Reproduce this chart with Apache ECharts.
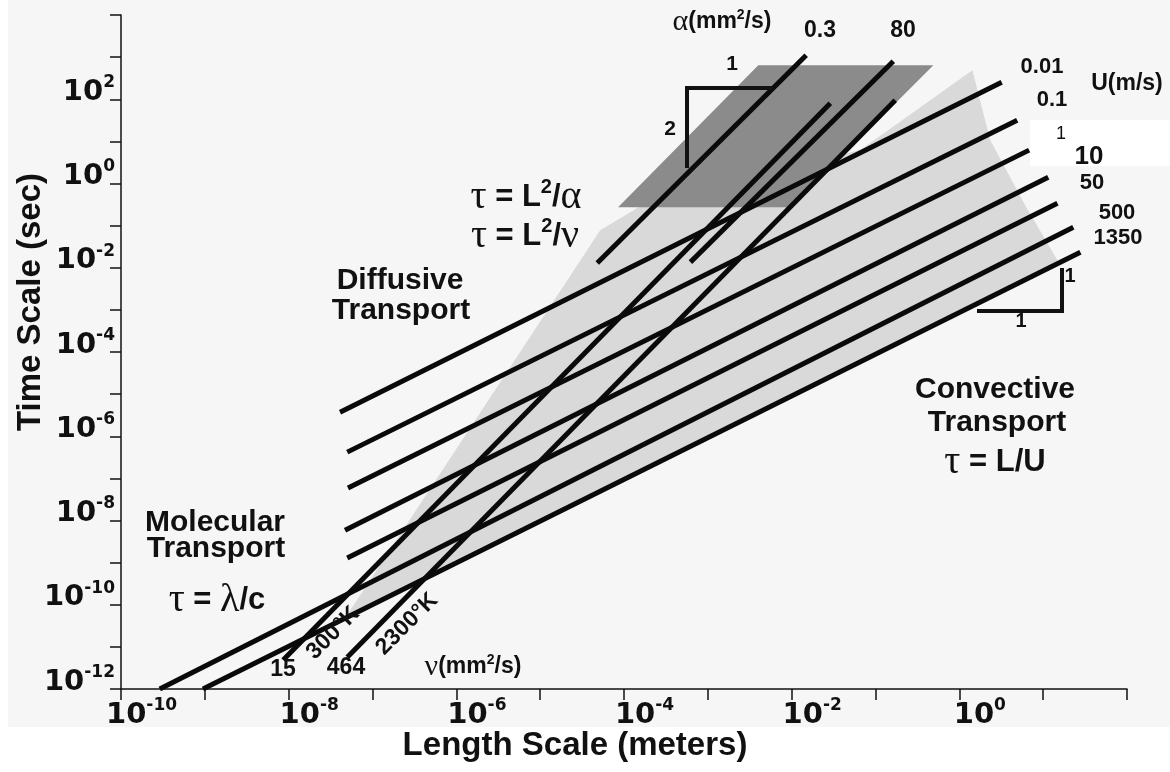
<!DOCTYPE html>
<html><head><meta charset="utf-8">
<script src="https://cdn.jsdelivr.net/npm/echarts@6/dist/echarts.min.js"></script>
<style>html,body{margin:0;padding:0;background:#fff}#c{width:1170px;height:772px}</style>
</head><body><div id="c"></div>
<script>
// ---- Convective lines  tau = L/U  (U in m/s): end points [L (m), tau (s)]
const uLabels = ['0.01', '0.1', '1', '10', '50', '500', '1350'];
const uStartL = [4.1e-8, 5.0e-8, 5.1e-8, 4.7e-8, 5.0e-8, 2.9e-10, 9.5e-10];
const uStartT = [3.7e-6, 4.2e-7, 5.9e-8, 5.9e-9, 1.29e-9, 1e-12, 1e-12];
const uEndL   = [3.2, 4.9, 6.8, 11.5, 14.8, 22.9, 27.8];
const uEndT   = [254, 31.8, 6.2, 1.41, 0.34, 0.092, 0.0234];

// ---- Diffusive lines  tau = L^2/alpha , tau = L^2/nu  (mm^2/s)
const dLabels = ['alpha 0.3', 'alpha 80', 'nu 15', 'nu 464'];
const dStartL = [4.8e-5, 6.2e-4, 8.6e-9, 5.0e-8];
const dStartT = [0.0129, 0.0136, 4.9e-12, 5.7e-12];
const dEndL   = [0.0149, 0.163, 0.0289, 0.172];
const dEndT   = [1110, 800, 80.5, 94.8];

// ---- Shaded regions (vertices L, tau)
const darkL  = [8.5e-5, 4.0e-3, 0.49, 9.9e-3];
const darkT  = [0.274, 643, 643, 0.274];
const lightL = [4.7e-8, 5.2e-5, 2.06e-4, 0.066, 1.43, 2.34, 6.1, 15.2];
const lightT = [4.8e-11, 0.078, 0.40, 6.2, 489, 10.7, 0.305, 0.0136];

// ---- Axis decades
const xMinExp = -10, xMaxExp = 2, xLastLabel = 0;
const yMinExp = -12, yMaxExp = 4, yLastLabel = 2;

const lg = Math.log10;
const SANS = '"Liberation Sans", Arial, sans-serif';
const SERIF = '"Liberation Serif", "DejaVu Serif", serif';
const INK = '#111111';

const chart = echarts.init(document.getElementById('c'), null, {renderer: 'canvas'});

function lineSeries(name, l0, t0, l1, t1) {
  return {
    type: 'line', name, silent: true, z: 5, symbol: 'none',
    data: [[lg(l0), lg(t0)], [lg(l1), lg(t1)]],
    lineStyle: {color: '#0a0a0a', width: 5, cap: 'butt'}
  };
}
function polySeries(name, Ls, Ts, fill, z) {
  const pts = Ls.map((l, i) => [lg(l), lg(Ts[i])]);
  return {
    type: 'custom', name, silent: true, z,
    data: pts,
    renderItem: (params, api) => {
      if (params.dataIndex !== 0) return null;
      return {type: 'polygon', shape: {points: pts.map(p => api.coord(p))}, style: {fill}};
    }
  };
}

const series = [];
series.push(polySeries('light', lightL, lightT, '#d9d9d9', 1));
series.push(polySeries('dark', darkL, darkT, '#8b8b8b', 2));
uLabels.forEach((u, i) => series.push(lineSeries('U=' + u, uStartL[i], uStartT[i], uEndL[i], uEndT[i])));
dLabels.forEach((d, i) => series.push(lineSeries(d, dStartL[i], dStartT[i], dEndL[i], dEndT[i])));

const tickRich = {
  sp: {width: 41},
  b: {fontFamily: '"DejaVu Sans", sans-serif', fontWeight: 'bold', fontSize: 29, lineHeight: 36, color: INK},
  s: {fontFamily: '"DejaVu Sans", sans-serif', fontWeight: 'bold', fontSize: 17, lineHeight: 12, verticalAlign: 'top', color: INK}
};

function T(x, y, text, font, extra) {
  return {type: 'text', x, y, z: 100, silent: true,
    style: Object.assign({text, font, fill: INK, align: 'center', verticalAlign: 'middle'}, extra || {})};
}
const BOLD = s => 'bold ' + s + 'px ' + SANS;
const eqRich = {
  t: {fontFamily: SERIF, fontSize: 40, lineHeight: 40, fill: INK},
  e: {fontFamily: SANS, fontWeight: 'bold', fontSize: 31, lineHeight: 40, fill: INK},
  s: {fontFamily: SANS, fontWeight: 'bold', fontSize: 20, lineHeight: 18, verticalAlign: 'top', fill: INK}
};
const unitRich = {
  g: {fontFamily: SERIF, fontSize: 30, lineHeight: 28, fill: INK},
  b: {fontFamily: SANS, fontWeight: 'bold', fontSize: 23, lineHeight: 28, fill: INK},
  s: {fontFamily: SANS, fontWeight: 'bold', fontSize: 14, lineHeight: 12, verticalAlign: 'top', fill: INK}
};

const yTitle = T(31, 302, 'Time Scale (sec)', BOLD(33));
yTitle.rotation = Math.PI / 2;
const k300 = T(333, 633, '300°K', BOLD(23));
k300.rotation = Math.PI / 4;
const k2300 = T(407, 624, '2300°K', BOLD(23));
k2300.rotation = Math.PI / 4;

const graphic = [
  {type: 'rect', z: -10, silent: true, shape: {x: 8, y: 0, width: 1162, height: 727}, style: {fill: '#f6f6f6'}},
  {type: 'rect', z: -5, silent: true, shape: {x: 1030, y: 120, width: 140, height: 46}, style: {fill: '#ffffff'}},
  {type: 'polyline', z: 10, silent: true, shape: {points: [[772, 88], [687, 88], [687, 168]]}, style: {stroke: INK, lineWidth: 4, fill: null}},
  {type: 'polyline', z: 10, silent: true, shape: {points: [[1062, 268], [1062, 311], [977, 311]]}, style: {stroke: INK, lineWidth: 4, fill: null}},
  T(732, 64, '1', BOLD(21)),
  T(670, 129, '2', BOLD(21)),
  T(1070, 276, '1', BOLD(20)),
  T(1021, 321, '1', BOLD(20)),
  // axis titles
  yTitle,
  T(575, 746, 'Length Scale (meters)', BOLD(33)),
  // region labels
  T(400, 281, 'Diffusive', BOLD(30)),
  T(401, 311, 'Transport', BOLD(30)),
  T(215, 523, 'Molecular', BOLD(30)),
  T(216, 549, 'Transport', BOLD(30)),
  T(995, 390, 'Convective', BOLD(30)),
  T(997, 423, 'Transport', BOLD(30)),
  T(217, 600, '{t|τ}{e| = }{t|λ}{e|/c}', null, {rich: eqRich}),
  T(995, 462, '{t|τ}{e| = L/U}', null, {rich: eqRich}),
  T(526, 197, '{t|τ}{e| = L}{s|2}{e|/}{t|α}', null, {rich: eqRich}),
  T(525, 236, '{t|τ}{e| = L}{s|2}{e|/}{t|ν}', null, {rich: eqRich}),
  // alpha labels
  T(722, 22, '{g|α}{b|(mm}{s|2}{b|/s)}', null, {rich: unitRich}),
  T(820, 31, '0.3', BOLD(23)),
  T(903, 31, '80', BOLD(23)),
  // nu labels
  T(473, 667, '{g|ν}{b|(mm}{s|2}{b|/s)}', null, {rich: unitRich}),
  T(283, 670, '15', BOLD(23)),
  T(346, 668, '464', BOLD(23)),
  k300,
  k2300,
  // U labels
  T(1042, 67, '0.01', BOLD(22)),
  T(1127, 84, 'U(m/s)', BOLD(23)),
  T(1052, 100, '0.1', BOLD(22)),
  T(1061, 134, '1', '18px ' + SANS),
  T(1089, 157, '10', BOLD(26)),
  T(1092, 183, '50', BOLD(22)),
  T(1117, 213, '500', BOLD(22)),
  T(1118, 238, '1350', BOLD(22))
];

const axisCommon = {
  type: 'value', interval: 1,
  splitLine: {show: false},
  axisLine: {show: true, onZero: false, lineStyle: {color: INK, width: 1.5}},
  axisTick: {show: true, length: 11, lineStyle: {color: INK, width: 1.5}}
};

chart.setOption({
  animation: false,
  backgroundColor: '#ffffff',
  grid: {left: 121, right: 43, top: 15, bottom: 83, containLabel: false},
  xAxis: Object.assign({}, axisCommon, {
    min: xMinExp, max: xMaxExp,
    axisLabel: {
      margin: 8, rich: tickRich,
      formatter: v => (Math.round(v) % 2 === 0 && v <= xLastLabel) ? '{sp| }{b|10}{s|' + Math.round(v) + '}' : ''
    }
  }),
  yAxis: Object.assign({}, axisCommon, {
    min: yMinExp, max: yMaxExp,
    axisLabel: {
      margin: 6, rich: tickRich, padding: [0, 0, 14, 0],
      formatter: v => (Math.round(v) % 2 === 0 && v <= yLastLabel) ? '{b|10}{s|' + Math.round(v) + '}' : ''
    }
  }),
  series,
  graphic
});
</script></body></html>
